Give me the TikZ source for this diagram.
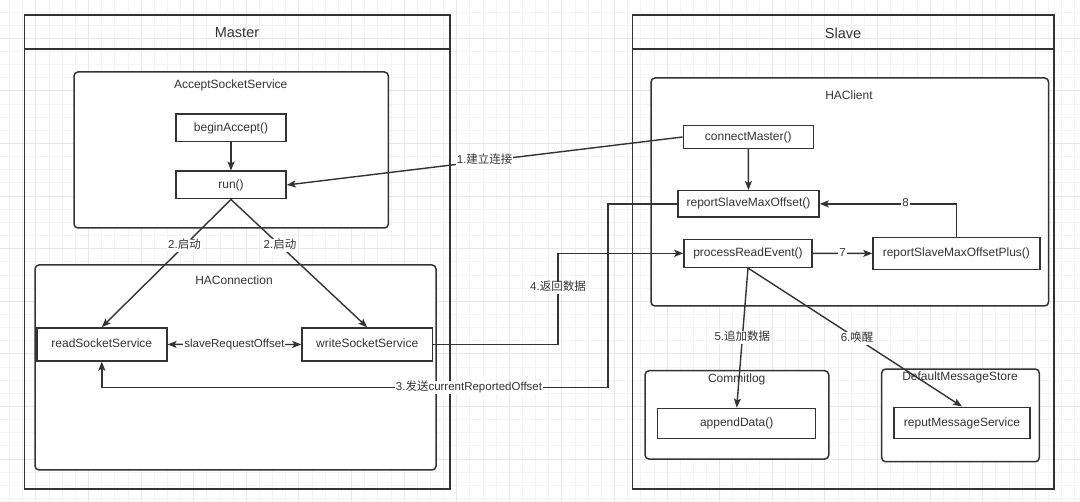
\documentclass[tikz,border=0pt]{standalone}
\usepackage{fontspec}
\setmainfont{Liberation Sans}
\newfontfamily\cjk{Noto Sans CJK SC}
\usetikzlibrary{arrows.meta,calc,positioning}
\definecolor{ink}{HTML}{333333}
\definecolor{gridlo}{HTML}{F3F3F3}
\definecolor{gridhi}{HTML}{E8E8E8}
\tikzset{
	gridminor/.style={draw=gridlo, line width=0.9pt},
	gridmajor/.style={draw=gridhi, line width=0.9pt},
	lane/.style={draw=ink, line width=1.5pt, inner sep=0pt},
	group/.style={draw=ink, fill=white, line width=1.5pt, rounded corners=4pt, inner sep=0pt},
	box/.style={draw=ink, fill=white, line width=1.5pt, inner sep=0pt, text=ink,
		font=\fontsize{12}{14}\selectfont, text height=8.6pt, text depth=2.4pt},
	title/.style={text=ink, inner sep=0pt, font=\fontsize{14.5}{16}\selectfont},
	grouplabel/.style={text=ink, inner sep=0pt, font=\fontsize{12}{14}\selectfont,
		text height=8.6pt, text depth=2.4pt},
	conn/.style={draw=ink, line width=1.4pt},
	elabel/.style={fill=white, text=ink, inner sep=1pt, font=\fontsize{11.5}{13}\selectfont,
		text height=8.4pt, text depth=2.4pt},
	>={Stealth[length=9pt,width=7pt,inset=2pt]},
}
\begin{document}
\begin{tikzpicture}[x=1pt,y=-1pt]
\useasboundingbox (0,0) rectangle (1080,502);
\fill[white] (0,0) rectangle (1080,502);
% background grid
\foreach \i in {0,...,81}
	\draw[gridminor] ({9.6+13.15*\i},0) -- ++(0,502);
\foreach \j in {0,...,37}
	\draw[gridminor] (0,{12+13.15*\j}) -- ++(1080,0);
\foreach \i in {0,...,19}
	\draw[gridmajor] ({35.9+52.6*\i},0) -- ++(0,502);
\foreach \j in {0,...,8}
	\draw[gridmajor] (0,{38.3+52.6*\j}) -- ++(1080,0);

% lanes
\node[lane, minimum width=425.5, minimum height=474] (master) at (237.25,252) {};
\draw[lane] ($(master.north west)+(0,35)$) -- ($(master.north east)+(0,35)$);
\node[title] (mastertitle) at (237,33) {Master};
\node[lane, minimum width=421.5, minimum height=474] (slave) at (843.25,252) {};
\draw[lane] ($(slave.north west)+(0,35)$) -- ($(slave.north east)+(0,35)$);
\node[title] (slavetitle) at (843,33) {Slave};

% groups
\node[group, minimum width=314.4, minimum height=156] (accept) at (231.2,150) {};
\node[grouplabel] (acceptlabel) at (230.7,85) {AcceptSocketService};
\node[group, minimum width=401, minimum height=205] (haconn) at (235.5,367.5) {};
\node[grouplabel] (haconnlabel) at (234,281) {HAConnection};
\node[group, minimum width=397.6, minimum height=228] (haclient) at (849.8,192) {};
\node[grouplabel] (haclientlabel) at (849,96) {HAClient};
\node[group, minimum width=183.7, minimum height=88.3] (commitlog) at (736.9,414.9) {};
\node[grouplabel] (commitloglabel) at (736.7,379) {Commitlog};
\node[group, minimum width=157.6, minimum height=92.7] (store) at (960.5,415.4) {};
\node[grouplabel] (storelabel) at (960,377) {DefaultMessageStore};

% boxes
\node[box, minimum width=110, minimum height=27.5] (begin) at (231,128) {beginAccept()};
\node[box, minimum width=110, minimum height=27.5] (run) at (231,185) {run()};
\node[box, minimum width=130, minimum height=33] (readsock) at (101.8,344.4) {readSocketService};
\node[box, minimum width=130.4, minimum height=33] (writesock) at (367.2,344.5) {writeSocketService};
\node[box, minimum width=130, minimum height=22.6] (connect) at (748.3,137) {connectMaster()};
\node[box, minimum width=141, minimum height=26.3] (report) at (748.5,203.9) {reportSlaveMaxOffset()};
\node[box, minimum width=128, minimum height=28] (process) at (748,253.3) {processReadEvent()};
\node[box, minimum width=166.7, minimum height=32.4] (reportplus) at (956.4,253.5) {reportSlaveMaxOffsetPlus()};
\node[box, minimum width=158, minimum height=30.4] (append) at (736.7,423.5) {appendData()};
\node[box, minimum width=136, minimum height=31.4] (reput) at (962,423) {reputMessageService};

% connectors
\draw[conn,->] (begin) -- (run);
\draw[conn,->] (connect.west) -- (run.east) node[elabel, pos=0.5] (l1) {1.{\cjk 建立连接}};
\draw[conn,->] (run.south) -- (readsock.north) node[elabel, pos=0.36] (l2a) {2.{\cjk 启动}};
\draw[conn,->] (run.south) -- (writesock.north) node[elabel, pos=0.36] (l2b) {2.{\cjk 启动}};
\draw[conn,<->] (readsock) -- (writesock) node[elabel, midway] (l0) {slaveRequestOffset};
\coordinate (sendturn) at (608,387.7);
\coordinate (sendlabel) at (469,387.7);
\draw[conn,->] (report.west) -| (sendturn) -- (sendlabel) node[elabel] (l3) {3.{\cjk 发送}currentReportedOffset} -| (readsock.south);
\coordinate (retturn) at (558,288);
\draw[conn,->] (writesock.east) -| (retturn) node[elabel] (l4) {4.{\cjk 返回数据}} |- (process.west);
\draw[conn,->] (connect) -- (report);
\draw[conn,->] (process) -- (reportplus) node[elabel, midway] (l7) {7};
\draw[conn,->] (reportplus.north) |- (report.east) node[elabel, pos=0.686] (l8) {8};
\draw[conn,->] (process.south) -- (append.north) node[elabel, pos=0.5] (l5) {5.{\cjk 追加数据}};
\draw[conn,->] (process.south) -- (reput.north) node[elabel, pos=0.51] (l6) {6.{\cjk 唤醒}};
\end{tikzpicture}
\end{document}
